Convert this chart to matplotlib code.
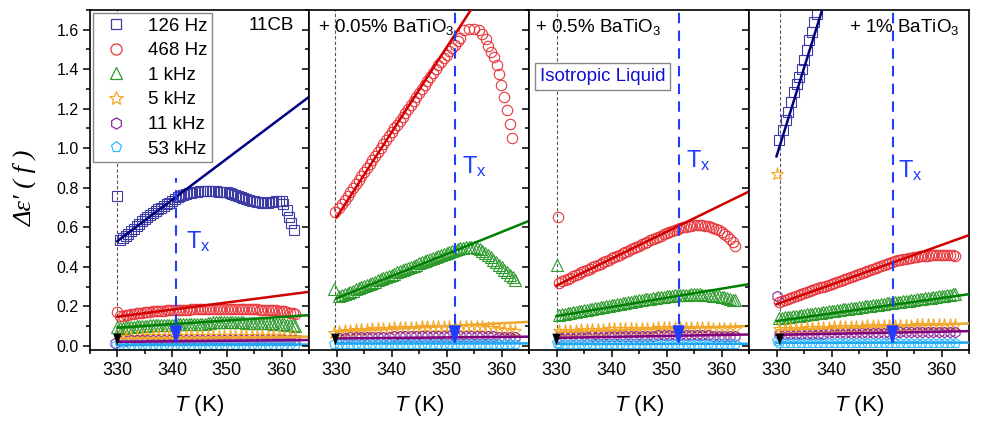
import matplotlib
matplotlib.use("Agg")
import matplotlib.pyplot as plt
from matplotlib.lines import Line2D
from matplotlib.ticker import MultipleLocator

plt.rcParams['font.family'] = ['Liberation Sans', 'DejaVu Sans']
plt.rcParams['mathtext.fontset'] = 'custom'
plt.rcParams['mathtext.rm'] = 'Liberation Sans'
plt.rcParams['mathtext.it'] = 'Liberation Sans:italic'

# ---- data ----
freqs = ['126 Hz', '468 Hz', '1 kHz', '5 kHz', '11 kHz', '53 kHz']
markers = ['s', 'o', '^', '*', 'h', 'p']
mk_sizes = [6.5, 7.5, 8, 9.5, 7.5, 7.5]
mk_colors = ['#3c3ca4', '#e8383d', '#2e9a2e', '#f5a623', '#8b2a9a', '#33bbff']
fit_colors = ['#000080', '#d00000', '#008000', '#f0a830', '#800080', '#1ea8f0']

panel_titles = ['11CB', '+ 0.05% BaTiO$_\\mathregular{3}$',
                '+ 0.5% BaTiO$_\\mathregular{3}$', '+ 1% BaTiO$_\\mathregular{3}$']
tx = [340.7, 351.5, 352.2, 351.1]
t_start = [330.0, 329.8, 330.0, 330.6]

# 1 K steps
temps = [330.5, 331.5, 332.5, 333.5, 334.5, 335.5, 336.5, 337.5, 338.5, 339.5,
         340.5, 341.5, 342.5, 343.5, 344.5, 345.5, 346.5, 347.5, 348.5, 349.5,
         350.5, 351.5, 352.5, 353.5, 354.5, 355.5, 356.5, 357.5, 358.5, 359.5,
         360.5, 361.5, 362.5]
# 0.5 K steps
temps_h = [330.5, 331.0, 331.5, 332.0, 332.5, 333.0, 333.5, 334.0, 334.5, 335.0,
           335.5, 336.0, 336.5, 337.0, 337.5, 338.0, 338.5, 339.0, 339.5, 340.0,
           340.5, 341.0, 341.5, 342.0, 342.5, 343.0, 343.5, 344.0, 344.5, 345.0,
           345.5, 346.0, 346.5, 347.0, 347.5, 348.0, 348.5, 349.0, 349.5, 350.0,
           350.5, 351.0, 351.5, 352.0, 352.5, 353.0, 353.5, 354.0, 354.5, 355.0,
           355.5, 356.0, 356.5, 357.0, 357.5, 358.0, 358.5, 359.0, 359.5, 360.0,
           360.5, 361.0, 361.5, 362.0, 362.5]

# panel 1: 11CB
p1_126_t = temps_h[:60] + [360.3, 360.9, 361.4, 361.8, 362.2]
p1_126 = [0.535, 0.545, 0.555, 0.567, 0.58, 0.592, 0.605, 0.617, 0.63, 0.64,
          0.65, 0.66, 0.67, 0.68, 0.69, 0.70, 0.71, 0.718, 0.725, 0.735,
          0.745, 0.752, 0.76, 0.765, 0.77, 0.772, 0.775, 0.778, 0.78, 0.782,
          0.785, 0.785, 0.785, 0.785, 0.785, 0.782, 0.78, 0.78, 0.78, 0.777,
          0.775, 0.77, 0.765, 0.76, 0.755, 0.75, 0.745, 0.74, 0.735, 0.732,
          0.73, 0.727, 0.725, 0.725, 0.725, 0.727, 0.73, 0.733, 0.735, 0.735,
          0.72, 0.685, 0.65, 0.62, 0.585]
p1_468 = [0.15, 0.152, 0.155, 0.158, 0.16, 0.162, 0.165, 0.167, 0.168, 0.17,
          0.171, 0.172, 0.174, 0.175, 0.176, 0.177, 0.178, 0.179, 0.18, 0.18,
          0.181, 0.181, 0.182, 0.182, 0.183, 0.183, 0.184, 0.184, 0.185, 0.185,
          0.185, 0.185, 0.185, 0.185, 0.185, 0.185, 0.185, 0.185, 0.185, 0.185,
          0.185, 0.185, 0.185, 0.185, 0.185, 0.185, 0.185, 0.185, 0.185, 0.184,
          0.184, 0.183, 0.183, 0.182, 0.182, 0.181, 0.18, 0.179, 0.178, 0.176,
          0.174, 0.171, 0.168, 0.164, 0.16]
p1_1k = [0.09, 0.092, 0.093, 0.095, 0.096, 0.097, 0.098, 0.099, 0.1, 0.101,
         0.102, 0.103, 0.104, 0.104, 0.105, 0.105, 0.106, 0.106, 0.107, 0.107,
         0.108, 0.108, 0.108, 0.108, 0.108, 0.108, 0.108, 0.108, 0.108, 0.108,
         0.108, 0.11, 0.115, 0.117, 0.118, 0.118, 0.118, 0.118, 0.118, 0.118,
         0.118, 0.118, 0.118, 0.118, 0.118, 0.118, 0.117, 0.117, 0.116, 0.116,
         0.115, 0.115, 0.114, 0.114, 0.113, 0.113, 0.112, 0.111, 0.11, 0.109,
         0.108, 0.107, 0.105, 0.103, 0.1]
p1_5k = [0.042, 0.043, 0.044, 0.045, 0.046, 0.047, 0.048, 0.048, 0.049, 0.049,
         0.05, 0.05, 0.05, 0.05, 0.05, 0.05, 0.05, 0.05, 0.05, 0.05,
         0.05, 0.05, 0.05, 0.05, 0.05, 0.049, 0.049, 0.048, 0.048, 0.047,
         0.046, 0.045, 0.044]
p1_11k = [0.025, 0.026, 0.027, 0.028, 0.029, 0.03, 0.03, 0.03, 0.03, 0.03,
          0.03, 0.03, 0.031, 0.031, 0.031, 0.031, 0.031, 0.031, 0.031, 0.031,
          0.031, 0.031, 0.031, 0.031, 0.03, 0.03, 0.03, 0.03, 0.03, 0.03,
          0.029, 0.028, 0.027]
p1_53k = [0.002, 0.003, 0.003, 0.003, 0.004, 0.004, 0.004, 0.004, 0.004, 0.004,
          0.004, 0.004, 0.004, 0.004, 0.004, 0.004, 0.004, 0.004, 0.004, 0.004,
          0.004, 0.004, 0.004, 0.004, 0.004, 0.004, 0.004, 0.004, 0.004, 0.004,
          0.004, 0.003, 0.003]

# panel 2: + 0.05% BaTiO3
p2_468_t = temps_h[:45] + [353.2, 354.1, 355.0, 355.9, 356.5, 357.1, 357.6, 358.0,
                           358.6, 359.1, 359.5, 359.9, 360.4, 361.0, 361.5, 361.9]
p2_468 = [0.70, 0.72, 0.74, 0.76, 0.78, 0.80, 0.82, 0.84, 0.86, 0.88,
          0.90, 0.92, 0.94, 0.96, 0.98, 1.00, 1.02, 1.04, 1.06, 1.08,
          1.10, 1.12, 1.14, 1.16, 1.18, 1.20, 1.22, 1.24, 1.26, 1.28,
          1.30, 1.32, 1.34, 1.36, 1.38, 1.40, 1.42, 1.438, 1.455, 1.472,
          1.49, 1.508, 1.525, 1.543, 1.56,
          1.597, 1.605, 1.605, 1.597, 1.58, 1.555, 1.52, 1.487,
          1.461, 1.42, 1.374, 1.318, 1.259, 1.195, 1.125, 1.054]
p2_1k = [0.25, 0.256, 0.262, 0.267, 0.273, 0.279, 0.285, 0.29, 0.296, 0.302,
         0.308, 0.313, 0.319, 0.325, 0.331, 0.336, 0.342, 0.348, 0.354, 0.359,
         0.365, 0.371, 0.377, 0.382, 0.388, 0.394, 0.4, 0.405, 0.411, 0.417,
         0.423, 0.428, 0.434, 0.44, 0.445, 0.45, 0.456, 0.461, 0.466, 0.471,
         0.476, 0.481, 0.485, 0.489, 0.493, 0.496, 0.499, 0.5, 0.501, 0.5,
         0.497, 0.489, 0.48, 0.47, 0.46, 0.448, 0.435, 0.423, 0.41, 0.398,
         0.385, 0.373, 0.36, 0.348, 0.335]
p2_5k = [0.072, 0.074, 0.076, 0.078, 0.08, 0.082, 0.083, 0.085, 0.086, 0.087,
         0.088, 0.089, 0.09, 0.091, 0.092, 0.093, 0.094, 0.095, 0.095, 0.096,
         0.096, 0.097, 0.097, 0.097, 0.096, 0.095, 0.093, 0.091, 0.088, 0.085,
         0.082, 0.078, 0.075]
p2_11k = [0.04, 0.041, 0.042, 0.043, 0.044, 0.044, 0.045, 0.045, 0.046, 0.046,
          0.047, 0.047, 0.048, 0.048, 0.048, 0.049, 0.049, 0.049, 0.049, 0.05,
          0.05, 0.05, 0.05, 0.05, 0.05, 0.049, 0.049, 0.048, 0.047, 0.046,
          0.045, 0.044, 0.043]
p2_53k = [0.008, 0.008, 0.009, 0.009, 0.009, 0.01, 0.01, 0.01, 0.01, 0.01,
          0.01, 0.01, 0.011, 0.011, 0.011, 0.011, 0.011, 0.011, 0.011, 0.011,
          0.011, 0.011, 0.011, 0.011, 0.011, 0.011, 0.011, 0.011, 0.01, 0.01,
          0.01, 0.01, 0.009]

# panel 3: + 0.5% BaTiO3
p3_468 = [0.32, 0.326, 0.332, 0.339, 0.345, 0.352, 0.358, 0.365, 0.371, 0.378,
          0.384, 0.39, 0.397, 0.403, 0.41, 0.416, 0.423, 0.429, 0.436, 0.442,
          0.449, 0.455, 0.462, 0.468, 0.475, 0.481, 0.488, 0.494, 0.501, 0.507,
          0.514, 0.52, 0.527, 0.533, 0.54, 0.546, 0.552, 0.558, 0.564, 0.57,
          0.576, 0.582, 0.587, 0.592, 0.596, 0.6, 0.603, 0.606, 0.608, 0.609,
          0.61, 0.61, 0.61, 0.608, 0.606, 0.602, 0.598, 0.592, 0.585, 0.576,
          0.566, 0.554, 0.54, 0.524, 0.505]
p3_1k = [0.158, 0.16, 0.163, 0.165, 0.168, 0.17, 0.173, 0.175, 0.178, 0.18,
         0.183, 0.185, 0.188, 0.19, 0.193, 0.195, 0.198, 0.2, 0.203, 0.205,
         0.208, 0.21, 0.213, 0.215, 0.218, 0.22, 0.223, 0.225, 0.228, 0.23,
         0.233, 0.235, 0.237, 0.239, 0.241, 0.243, 0.245, 0.247, 0.249, 0.25,
         0.252, 0.253, 0.255, 0.256, 0.257, 0.258, 0.259, 0.259, 0.26, 0.26,
         0.26, 0.26, 0.259, 0.258, 0.257, 0.255, 0.254, 0.252, 0.25, 0.248,
         0.245, 0.242, 0.238, 0.234, 0.23]
p3_5k = [0.074, 0.075, 0.076, 0.077, 0.078, 0.079, 0.08, 0.081, 0.082, 0.083,
         0.083, 0.084, 0.085, 0.085, 0.086, 0.086, 0.087, 0.087, 0.088, 0.088,
         0.088, 0.089, 0.089, 0.089, 0.089, 0.089, 0.088, 0.088, 0.087, 0.086,
         0.085, 0.084, 0.083]
p3_11k = [0.043, 0.044, 0.045, 0.045, 0.046, 0.046, 0.047, 0.047, 0.048, 0.048,
          0.049, 0.049, 0.05, 0.05, 0.05, 0.051, 0.051, 0.051, 0.052, 0.052,
          0.052, 0.052, 0.053, 0.053, 0.053, 0.053, 0.052, 0.052, 0.051, 0.05,
          0.049, 0.048, 0.047]
p3_53k = [0.008, 0.008, 0.009, 0.009, 0.009, 0.009, 0.01, 0.01, 0.01, 0.01,
          0.01, 0.01, 0.01, 0.01, 0.01, 0.01, 0.01, 0.01, 0.01, 0.01,
          0.01, 0.01, 0.01, 0.01, 0.01, 0.01, 0.01, 0.01, 0.01, 0.009,
          0.009, 0.009, 0.008]

# panel 4: + 1% BaTiO3
p4_126_t = [330.53, 331.15, 331.70, 332.17, 332.61, 333.27, 333.71, 334.18,
            334.62, 335.04, 335.53, 335.95, 336.44, 336.86, 337.35]
p4_126 = [1.040, 1.091, 1.141, 1.184, 1.234, 1.284, 1.327, 1.360,
          1.403, 1.445, 1.496, 1.546, 1.588, 1.638, 1.681]
p4_468 = [0.22, 0.225, 0.23, 0.235, 0.24, 0.245, 0.25, 0.255, 0.26, 0.265,
          0.27, 0.275, 0.28, 0.285, 0.29, 0.295, 0.30, 0.305, 0.31, 0.315,
          0.32, 0.325, 0.33, 0.335, 0.34, 0.345, 0.35, 0.355, 0.36, 0.365,
          0.37, 0.375, 0.38, 0.385, 0.39, 0.395, 0.40, 0.405, 0.41, 0.415,
          0.42, 0.424, 0.428, 0.432, 0.435, 0.438, 0.441, 0.444, 0.446, 0.448,
          0.45, 0.452, 0.453, 0.455, 0.456, 0.457, 0.458, 0.459, 0.459, 0.46,
          0.46, 0.46, 0.459, 0.458, 0.456]
p4_1k = [0.14, 0.142, 0.144, 0.146, 0.148, 0.149, 0.151, 0.153, 0.155, 0.157,
         0.159, 0.161, 0.163, 0.165, 0.167, 0.168, 0.17, 0.172, 0.174, 0.176,
         0.178, 0.18, 0.182, 0.184, 0.186, 0.187, 0.189, 0.191, 0.193, 0.195,
         0.197, 0.199, 0.201, 0.203, 0.205, 0.206, 0.208, 0.21, 0.212, 0.214,
         0.216, 0.218, 0.22, 0.222, 0.224, 0.225, 0.227, 0.229, 0.231, 0.233,
         0.235, 0.237, 0.239, 0.241, 0.243, 0.244, 0.246, 0.248, 0.25, 0.252,
         0.254, 0.256, 0.258, 0.26, 0.262]
p4_5k = [0.083, 0.084, 0.085, 0.086, 0.087, 0.088, 0.089, 0.09, 0.091, 0.092,
         0.093, 0.094, 0.095, 0.096, 0.096, 0.097, 0.098, 0.098, 0.099, 0.1,
         0.1, 0.101, 0.101, 0.102, 0.102, 0.103, 0.103, 0.103, 0.104, 0.104,
         0.104, 0.104, 0.104]
p4_11k = [0.058, 0.059, 0.059, 0.06, 0.06, 0.061, 0.061, 0.062, 0.062, 0.063,
          0.063, 0.064, 0.064, 0.065, 0.065, 0.065, 0.066, 0.066, 0.066, 0.067,
          0.067, 0.067, 0.068, 0.068, 0.068, 0.068, 0.069, 0.069, 0.069, 0.069,
          0.069, 0.069, 0.069]
p4_53k = [0.012, 0.012, 0.013, 0.013, 0.013, 0.013, 0.014, 0.014, 0.014, 0.014,
          0.014, 0.014, 0.015, 0.015, 0.015, 0.015, 0.015, 0.015, 0.015, 0.015,
          0.015, 0.015, 0.015, 0.015, 0.015, 0.015, 0.015, 0.015, 0.015, 0.015,
          0.014, 0.014, 0.014]

# isolated first points (index into freqs, T, value)
p1_single = [(0, 330.0, 0.758), (1, 330.0, 0.17), (2, 330.0, 0.096),
             (4, 329.6, 0.015), (5, 329.7, 0.004)]
p2_single = [(1, 329.7, 0.675), (2, 329.5, 0.285), (3, 329.5, 0.065), (5, 329.6, 0.01)]
p3_single = [(1, 330.2, 0.652), (2, 330.0, 0.408), (5, 330.0, 0.012)]
p4_single = [(3, 330.0, 0.872), (4, 330.0, 0.251), (5, 330.0, 0.025)]

# linear fits: value at 330 K and at 365 K (None = no fit)
p1_fit = [(0.53, 1.26), (0.147, 0.273), (0.091, 0.155), (0.038, 0.046), (0.02, 0.029), (0.004, 0.006)]
p2_fit = [None, (0.65, 2.155), (0.24, 0.632), (0.071, 0.121), (0.037, 0.046), (0.011, 0.012)]
p3_fit = [None, (0.305, 0.781), (0.15, 0.312), (0.07, 0.1), (0.04, 0.057), (0.009, 0.01)]
p4_fit = [(0.959, 4.085), (0.21, 0.56), (0.125, 0.261), (0.079, 0.113), (0.055, 0.074), (0.015, 0.016)]

panels = [
    ([(0, p1_126_t, p1_126), (1, temps_h, p1_468), (2, temps_h, p1_1k),
      (3, temps, p1_5k), (4, temps, p1_11k), (5, temps, p1_53k)], p1_single, p1_fit),
    ([(1, p2_468_t, p2_468), (2, temps_h, p2_1k), (3, temps, p2_5k),
      (4, temps, p2_11k), (5, temps, p2_53k)], p2_single, p2_fit),
    ([(1, temps_h, p3_468), (2, temps_h, p3_1k), (3, temps, p3_5k),
      (4, temps, p3_11k), (5, temps, p3_53k)], p3_single, p3_fit),
    ([(0, p4_126_t, p4_126), (1, temps_h, p4_468), (2, temps_h, p4_1k),
      (3, temps, p4_5k), (4, temps, p4_11k), (5, temps, p4_53k)], p4_single, p4_fit),
]

# ---- figure ----
W, H = 981, 423
fig = plt.figure(figsize=(W / 100, H / 100), dpi=100)
edges = [90, 309, 529, 749, 969]
bottom, top = 349.7, 10
blue = '#1f3cff'

axes = []
for i in range(4):
    ax = fig.add_axes([edges[i] / W, 1 - bottom / H,
                       (edges[i + 1] - edges[i]) / W, (bottom - top) / H])
    axes.append(ax)
    series, singles, fits = panels[i]
    for k, t, v in series:
        ax.plot(t, v, ls='none', marker=markers[k], ms=mk_sizes[k], mfc='none',
                mec=mk_colors[k], mew=0.8, zorder=2)
    for k, t, v in singles:
        ax.plot(t, v, ls='none', marker=markers[k], ms=mk_sizes[k], mfc='none',
                mec=mk_colors[k], mew=0.8, zorder=2)
    for k, fit in enumerate(fits):
        if fit is not None:
            ax.plot([330, 365], fit, color=fit_colors[k], lw=1.8, zorder=3)

    # guides
    ax.axvline(t_start[i], color='#555555', lw=0.8, ls=(0, (3, 2)), zorder=1)
    ax.annotate('', xy=(t_start[i], -0.012), xytext=(t_start[i], 0.045),
                arrowprops=dict(arrowstyle='-|>,head_length=0.7,head_width=0.25',
                                color='black', lw=0, mutation_scale=12), zorder=6)
    ymax = 0.85 if i == 0 else 1.75
    ax.plot([tx[i], tx[i]], [0.02, ymax], color=blue, lw=1.5, ls=(0, (5, 3.5)), zorder=4)
    ax.annotate('', xy=(tx[i], -0.012), xytext=(tx[i], 0.06),
                arrowprops=dict(arrowstyle='-|>,head_length=0.8,head_width=0.25',
                                color=blue, lw=1.5, mutation_scale=14), zorder=6)

    ax.set_xlim(325, 365)
    ax.set_ylim(-0.02, 1.7)
    ax.xaxis.set_major_locator(MultipleLocator(10))
    ax.xaxis.set_minor_locator(MultipleLocator(5))
    ax.yaxis.set_major_locator(MultipleLocator(0.2))
    ax.yaxis.set_minor_locator(MultipleLocator(0.1))
    ax.tick_params(which='both', direction='out', top=False, right=False, width=1.1)
    ax.tick_params(which='major', length=5)
    ax.tick_params(which='minor', length=3)
    ax.tick_params(axis='x', labelsize=13, pad=4)
    ax.tick_params(axis='y', labelsize=11.5, pad=3)
    ax.set_xticks([330, 340, 350, 360])
    if i > 0:
        ax.set_yticklabels([])
    else:
        ax.yaxis.set_major_formatter(plt.FuncFormatter(lambda v, p: f'{v:.1f}'))
    for s in ax.spines.values():
        s.set_linewidth(1.2)
    ax.set_xlabel('$\\mathit{T}$ (K)', fontsize=16, labelpad=10)

# texts
axes[0].text(0.93, 0.955, panel_titles[0], transform=axes[0].transAxes,
             fontsize=13.5, ha='right', va='center')
axes[1].text(0.04, 0.95, panel_titles[1], transform=axes[1].transAxes,
             fontsize=13.5, ha='left', va='center')
axes[2].text(0.027, 0.95, panel_titles[2], transform=axes[2].transAxes,
             fontsize=13.5, ha='left', va='center')
axes[3].text(0.955, 0.95, panel_titles[3], transform=axes[3].transAxes,
             fontsize=13.5, ha='right', va='center')
axes[2].text(0.336, 0.804, 'Isotropic Liquid', transform=axes[2].transAxes,
             fontsize=13.5, color='#1010d0', ha='center', va='center', zorder=7,
             bbox=dict(boxstyle='square,pad=0.25', fc='white', ec='#888888', lw=1))

tx_label_pos = [(342.5, 0.526), (352.8, 0.909), (353.5, 0.939), (352.0, 0.888)]
for ax, (xt, yt) in zip(axes, tx_label_pos):
    ax.text(xt, yt, '$\\mathregular{T_x}$', color=blue, fontsize=17,
            ha='left', va='center', zorder=5)

handles = [Line2D([], [], ls='none', marker=markers[k], ms=mk_sizes[k] + 0.5,
                  mfc='none', mec=mk_colors[k], mew=0.9) for k in range(6)]
leg = axes[0].legend(handles, freqs, loc='upper left', bbox_to_anchor=(0.0, 1.0),
                     fontsize=13.5, frameon=True, fancybox=False, framealpha=1,
                     edgecolor='#888888', borderpad=0.25, labelspacing=0.4,
                     handlelength=2.0, handletextpad=0.7, borderaxespad=0.15)
leg.get_frame().set_linewidth(1.0)
leg.set_zorder(8)

fig.text(25 / W, 1 - 188 / H, "Δε′ ( f )", rotation=90, ha='center', va='center',
         fontsize=19, style='italic', family=['Liberation Serif', 'DejaVu Serif'])

fig.savefig('out.png', dpi=100)
